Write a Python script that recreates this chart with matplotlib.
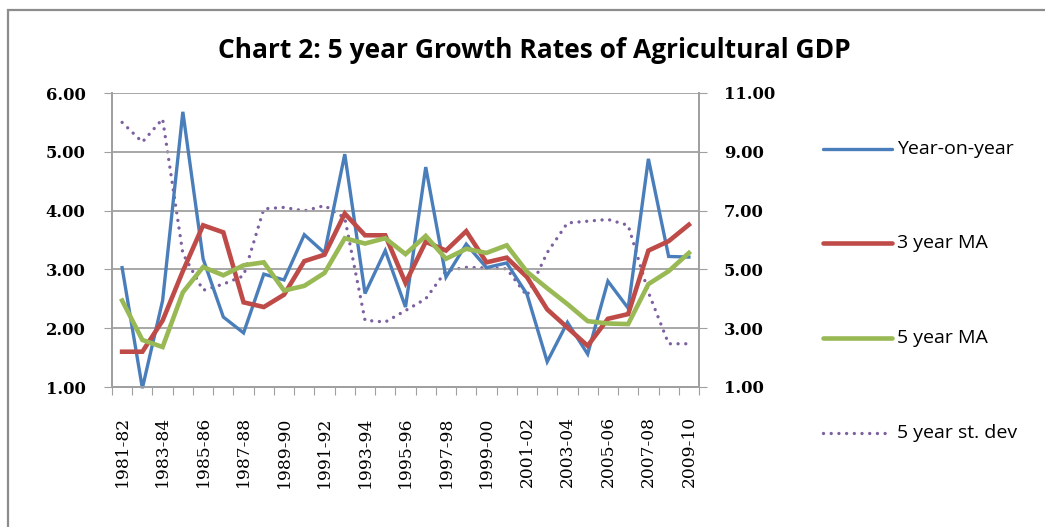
import numpy as np
import matplotlib
matplotlib.use("Agg")
import matplotlib.pyplot as plt
from matplotlib.lines import Line2D
from matplotlib.patches import Rectangle

# Fiscal years
years = ["1981-82", "1982-83", "1983-84", "1984-85", "1985-86", "1986-87", "1987-88",
         "1988-89", "1989-90", "1990-91", "1991-92", "1992-93", "1993-94", "1994-95",
         "1995-96", "1996-97", "1997-98", "1998-99", "1999-00", "2000-01", "2001-02",
         "2002-03", "2003-04", "2004-05", "2005-06", "2006-07", "2007-08", "2008-09",
         "2009-10"]

# Growth rates of agricultural GDP (%)
year_on_year = [3.03, 0.98, 2.47, 5.68, 3.18, 2.19, 1.92, 2.92, 2.82, 3.59, 3.28, 4.96,
                2.59, 3.32, 2.36, 4.74, 2.87, 3.43, 3.03, 3.11, 2.58, 1.43, 2.10, 1.56,
                2.80, 2.34, 4.88, 3.22, 3.21]
ma3 = [1.60, 1.60, 2.13, 2.97, 3.75, 3.63, 2.44, 2.36, 2.57, 3.14, 3.25, 3.95, 3.58,
       3.58, 2.77, 3.47, 3.32, 3.65, 3.12, 3.20, 2.87, 2.32, 2.01, 1.70, 2.16, 2.24,
       3.32, 3.48, 3.76]
ma5 = [2.47, 1.80, 1.68, 2.61, 3.04, 2.90, 3.07, 3.12, 2.64, 2.72, 2.94, 3.53, 3.44,
       3.53, 3.26, 3.57, 3.18, 3.35, 3.28, 3.41, 2.96, 2.68, 2.41, 2.12, 2.08, 2.07,
       2.75, 2.97, 3.28]
# 5 year standard deviation (secondary axis)
sd5 = [10.00, 9.33, 10.12, 5.54, 4.29, 4.50, 4.78, 7.06, 7.11, 6.99, 7.17, 6.75, 3.27,
       3.21, 3.60, 4.00, 4.95, 5.07, 5.05, 5.02, 4.10, 5.57, 6.58, 6.64, 6.70, 6.50,
       4.22, 2.47, 2.47]

series_names = ["Year-on-year", "3 year MA", "5 year MA", "5 year st. dev"]
left_ticks = [1.0, 2.0, 3.0, 4.0, 5.0, 6.0]
right_ticks = [1.0, 3.0, 5.0, 7.0, 9.0, 11.0]
title = "Chart 2: 5 year Growth Rates of Agricultural GDP"

BLUE, RED, GREEN, PURPLE = "#4a7ebb", "#be4b48", "#98b954", "#7d60a0"
GRID = "#a0a0a0"
W, H = 1045, 527

fig = plt.figure(figsize=(W / 100, H / 100), dpi=100)
fig.patch.set_facecolor("white")

# outer chart frame
fig.add_artist(Rectangle((8 / W, -0.05), 1.2, 1 - 10 / H + 0.05, transform=fig.transFigure,
                         fill=False, edgecolor="#8c8c8c", linewidth=1.6))

x0, x1, ytop, ybot = 112, 699, 93, 387
ax = fig.add_axes([x0 / W, 1 - ybot / H, (x1 - x0) / W, (ybot - ytop) / H])
ax2 = ax.twinx()

x = np.arange(len(years))
ax.set_xlim(-0.5, len(years) - 0.5)
ax.set_ylim(left_ticks[0], left_ticks[-1])
ax2.set_ylim(right_ticks[0], right_ticks[-1])

for a in (ax, ax2):
    a.set_facecolor("none")
    for s in a.spines.values():
        s.set_color(GRID)
        s.set_linewidth(1.3)
    a.spines["top"].set_visible(False)

ax.set_zorder(ax2.get_zorder() + 1)
ax.patch.set_visible(False)

ax.yaxis.grid(True, color=GRID, linewidth=1.3)
ax.set_axisbelow(True)

ytick_font = dict(family="DejaVu Serif", size=11.8, weight="bold")
xtick_font = dict(family="DejaVu Serif", size=12.3)
ax.set_yticks(left_ticks)
ax.set_yticklabels([f"{v:.2f}" for v in left_ticks], fontdict=ytick_font)
ax2.set_yticks(right_ticks)
ax2.set_yticklabels([f"{v:.2f}" for v in right_ticks], fontdict=ytick_font)
ax.tick_params(axis="y", length=6, color=GRID, pad=13)
ax2.tick_params(axis="y", length=6, color=GRID, pad=12)

ax.set_xticks(np.arange(-0.5, len(years)), minor=False)
ax.set_xticklabels([])
ax.set_xticks(x[::2], minor=True)
ax.set_xticklabels(years[::2], minor=True, rotation=90, fontdict=xtick_font, va="top")
ax.tick_params(axis="x", which="major", length=6, color=GRID)
ax.tick_params(axis="x", which="minor", length=0, pad=21)

ax2.plot(x, sd5, color=PURPLE, linewidth=2.4, linestyle=(0, (0.01, 2.3)),
         dash_capstyle="round", clip_on=False)
ax.plot(x, year_on_year, color=BLUE, linewidth=2.4, clip_on=False, solid_joinstyle="miter")
ax.plot(x, ma3, color=RED, linewidth=3.3, clip_on=False, solid_joinstyle="miter")
ax.plot(x, ma5, color=GREEN, linewidth=3.3, clip_on=False, solid_joinstyle="miter")

fig.text(534 / W, 1 - 51 / H, title, ha="center", va="center",
         fontsize=19, fontweight="bold", family="Open Sans")

# legend
styles = [dict(color=BLUE, linewidth=2.4),
          dict(color=RED, linewidth=3.3),
          dict(color=GREEN, linewidth=3.3),
          dict(color=PURPLE, linewidth=2.4, linestyle=(0, (0.01, 2.3)), dash_capstyle="round")]
legend_y = [149, 243, 338, 433]
for name, st, ly in zip(series_names, styles, legend_y):
    yf = 1 - ly / H
    fig.add_artist(Line2D([823 / W, 892 / W], [yf, yf], transform=fig.transFigure,
                          solid_capstyle="round", **st))
    fig.text(897 / W, yf, name, ha="left", va="center", fontsize=14, family="Open Sans")

fig.savefig("out.png", dpi=100, facecolor="white")
